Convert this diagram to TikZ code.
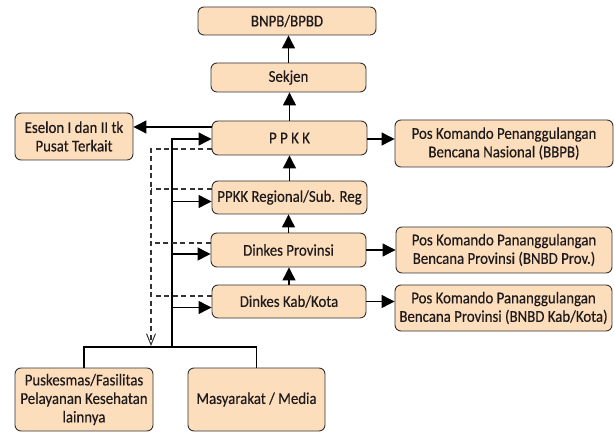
\documentclass[tikz,border=0pt]{standalone}
\usepackage{fontspec}
\setmainfont{Carlito}[FakeStretch=0.9,FakeBold=0.35]
\usetikzlibrary{arrows.meta}
\definecolor{peach}{RGB}{252,221,188}
\definecolor{edge}{RGB}{50,50,50}
\definecolor{ink}{RGB}{30,26,27}
\begin{document}
\begin{tikzpicture}[x=1pt,y=-1pt,
  box/.style={draw=edge,line width=0.9pt,fill=peach,rounded corners=6pt,
    inner sep=0pt,align=center,text=ink,
    font=\fontsize{16.5}{18.5}\selectfont},
  conn/.style={draw=black,line width=1.2pt},
  arr/.style={conn,-{Triangle[length=13pt,width=13pt]}},
  dashline/.style={draw=black!80,line width=1.1pt,dash pattern=on 5pt off 3.5pt},
  darr/.style={dashline,-{Straight Barb[length=11pt,width=9pt,line width=1pt]}}
]
\useasboundingbox (0,0) rectangle (614,433);

\node[box,minimum width=178pt,minimum height=28pt] (bnpb) at (287,21) {BNPB/BPBD};
\node[box,minimum width=155pt,minimum height=29pt] (sekjen) at (288.5,77.5) {Sekjen};
\node[box,minimum width=155pt,minimum height=34pt] (ppkk) at (289.5,138) {P P K K};
\node[box,minimum width=118pt,minimum height=47pt] (eselon) at (74,136.5) {Eselon I dan II tk\\Pusat Terkait};
\node[box,minimum width=218pt,minimum height=47pt] (posbbpb) at (504,143.5) {Pos Komando Penanggulangan\\Bencana Nasional (BBPB)};
\node[box,minimum width=155pt,minimum height=33pt] (reg) at (289.5,197.5) {PPKK Regional/Sub. Reg};
\node[box,minimum width=155pt,minimum height=34pt] (prov) at (288.5,250) {Dinkes Provinsi};
\node[box,minimum width=216pt,minimum height=46pt] (posprov) at (504,250) {Pos Komando Pananggulangan\\Bencana Provinsi (BNBD Prov.)};
\node[box,minimum width=154pt,minimum height=33pt] (kab) at (289,301.5) {Dinkes Kab/Kota};
\node[box,minimum width=217pt,minimum height=46pt] (poskab) at (503.5,308) {Pos Komando Pananggulangan\\Bencana Provinsi (BNBD Kab/Kota)};
\node[box,minimum width=138pt,minimum height=63pt] (pusk) at (84,399.5) {Puskesmas/Fasilitas\\Pelayanan Kesehatan\\lainnya};
\node[box,minimum width=137pt,minimum height=63pt] (masy) at (256.5,399.5) {Masyarakat / Media};

% vertical chain
\draw[arr] (sekjen) -- (sekjen |- bnpb.south);
\draw[arr] (ppkk) -- (ppkk |- sekjen.south);
\draw[arr] (reg) -- (reg |- ppkk.south);
\draw[arr] (prov) -- (prov |- reg.south);
\draw[arr] (kab) -- (kab |- prov.south);

% sideways
\draw[arr] ([yshift=11pt]ppkk.west) -- ([yshift=11pt]ppkk.west -| eselon.east);
\draw[arr] ([yshift=-1pt]ppkk.east) -- ([yshift=-1pt]ppkk.east -| posbbpb.west);
\draw[arr] (prov.east) -- (prov.east -| posprov.west);
\draw[arr] (kab.east) -- (kab.east -| poskab.west);

% solid spine
\coordinate (bus) at (172,347);
\draw[arr] (bus) |- ([yshift=-1pt]ppkk.west);
\draw[arr] ([yshift=-4pt]reg.west -| bus) -- ([yshift=-4pt]reg.west);
\draw[arr] ([yshift=-4pt]prov.west -| bus) -- ([yshift=-4pt]prov.west);
\draw[arr] ([yshift=-6pt]kab.west -| bus) -- ([yshift=-6pt]kab.west);

% bus to bottom boxes
\draw[conn] (pusk.north) |- (masy.north |- bus) -- (masy.north);

% dashed feedback
\coordinate (dtip) at (151,346);
\draw[darr] ([yshift=-11pt]ppkk.west) -| (dtip);
\draw[dashline] ([yshift=8.5pt]reg.west) -- ([yshift=8.5pt]reg.west -| dtip);
\draw[dashline] ([yshift=7pt]prov.west) -- ([yshift=7pt]prov.west -| dtip);
\draw[dashline] ([yshift=5.5pt]kab.west) -- ([yshift=5.5pt]kab.west -| dtip);
\end{tikzpicture}
\end{document}
